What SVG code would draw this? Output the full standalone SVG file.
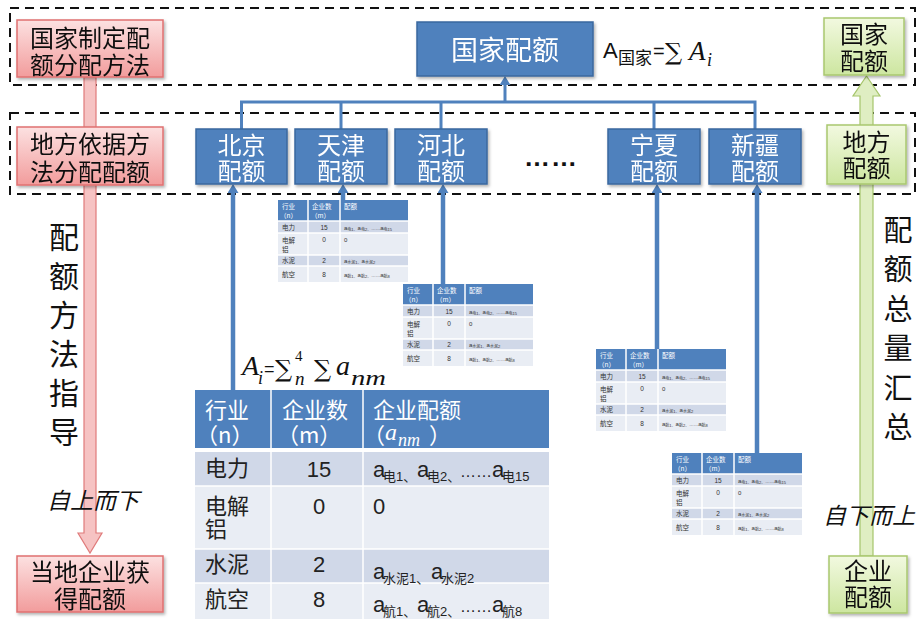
<svg xmlns="http://www.w3.org/2000/svg" width="921" height="620" viewBox="0 0 921 620">
<defs>
<style>
.cn{font-family:"Noto Sans CJK SC","Liberation Sans",sans-serif}
.lat{font-family:"Liberation Sans","Noto Sans CJK SC",sans-serif}
.math{font-family:"Liberation Serif","DejaVu Serif",serif;font-style:italic}
.up-num{font-family:"Liberation Serif","DejaVu Serif",serif;font-style:normal}
.sig{font-family:"DejaVu Serif","Liberation Serif",serif}
.dash{fill:none;stroke:#111;stroke-width:2;stroke-dasharray:9 6}
.blue{fill:#4F81BD;stroke:#3A689E;stroke-width:1.5}
.red{fill:url(#gRed);stroke:#E07070;stroke-width:1.5}
.green{fill:url(#gGreen);stroke:#A9C76F;stroke-width:1.5}
.wt{fill:#fff}
.bk{fill:#111}
.conn{fill:none;stroke:#4F81BD;stroke-width:3}
.up{fill:none;stroke:#4F81BD;stroke-width:4.5}
.hd{fill:#4F81BD}
.r1{fill:#D0D8E8}
.r2{fill:#E9EDF4}
.grid{stroke:#fff;stroke-width:1.5}
.mt{fill:#333}
</style>
<linearGradient id="gRed" x1="0" y1="0" x2="0" y2="1"><stop offset="0" stop-color="#FCE1E1"/><stop offset="1" stop-color="#F29C9C"/></linearGradient>
<linearGradient id="gGreen" x1="0" y1="0" x2="0" y2="1"><stop offset="0" stop-color="#F2F9E0"/><stop offset="1" stop-color="#CDE6A0"/></linearGradient>
<filter id="sh" x="-10%" y="-10%" width="130%" height="140%"><feDropShadow dx="1.5" dy="2" stdDeviation="1.5" flood-color="#000" flood-opacity="0.3"/></filter>
<marker id="ah" viewBox="0 0 10 10" refX="0" refY="5" markerWidth="9" markerHeight="11" markerUnits="userSpaceOnUse" orient="auto" preserveAspectRatio="none"><path d="M0,0 L10,5 L0,10 z" fill="#4F81BD"/></marker>
<g id="mini">
<rect x="0" y="0" width="130" height="21" class="hd"/>
<rect x="0" y="21" width="130" height="12" class="r1"/>
<rect x="0" y="33" width="130" height="22" class="r2"/>
<rect x="0" y="55" width="130" height="11" class="r1"/>
<rect x="0" y="66" width="130" height="16" class="r2"/>
<line x1="0" y1="21" x2="130" y2="21" stroke="#fff" stroke-width="1.5"/>
<line x1="0" y1="33" x2="130" y2="33" class="grid" stroke-width="0.8"/>
<line x1="0" y1="55" x2="130" y2="55" class="grid" stroke-width="0.8"/>
<line x1="0" y1="66" x2="130" y2="66" class="grid" stroke-width="0.8"/>
<line x1="30" y1="0" x2="30" y2="82" class="grid" stroke-width="0.8"/>
<line x1="62" y1="0" x2="62" y2="82" class="grid" stroke-width="0.8"/>
<g class="cn" font-size="6.5">
<text class="wt"><tspan x="4" y="9">行业</tspan><tspan x="2" y="18">（n）</tspan></text>
<text class="wt"><tspan x="34" y="9">企业数</tspan><tspan x="33" y="18">（m）</tspan></text>
<text x="66" y="9" class="wt">配额</text>
<text x="4" y="30" class="mt">电力</text>
<text class="mt"><tspan x="4" y="43">电解</tspan><tspan x="4" y="52">铝</tspan></text>
<text x="4" y="63" class="mt">水泥</text>
<text x="4" y="77" class="mt">航空</text>
</g>
<g class="lat mt" font-size="6.5" text-anchor="middle">
<text x="46" y="30">15</text>
<text x="46" y="42">0</text>
<text x="46" y="63">2</text>
<text x="46" y="77">8</text>
</g>
<g class="lat mt" font-size="6">
<text x="66" y="30">a<tspan font-size="4" dy="1">电1、</tspan><tspan dy="-1">a</tspan><tspan font-size="4" dy="1">电2、</tspan><tspan dy="-1" font-size="4.5">……</tspan>a<tspan font-size="4" dy="1">电15</tspan></text>
<text x="66" y="42">0</text>
<text x="66" y="63">a<tspan font-size="4" dy="1">水泥1、</tspan><tspan dy="-1">a</tspan><tspan font-size="4" dy="1">水泥2</tspan></text>
<text x="66" y="77">a<tspan font-size="4" dy="1">航1、</tspan><tspan dy="-1">a</tspan><tspan font-size="4" dy="1">航2、</tspan><tspan dy="-1" font-size="4.5">……</tspan>a<tspan font-size="4" dy="1">航8</tspan></text>
</g>
</g>
</defs>
<rect width="921" height="620" fill="#fff"/>

<g id="levels">
<rect class="dash" x="10" y="8" width="905" height="77"/>
<rect class="dash" x="10" y="113" width="905" height="81"/>
</g>

<g id="connectors">
<path class="conn" d="M241.5,129 V102 H755 V129 M341,102 V129 M441,102 V129 M654,102 V129"/>
<path class="conn" d="M505,102 V85" marker-end="url(#ah)"/>
<path class="up" d="M233,390 V193" marker-end="url(#ah)"/>
<path class="up" d="M343,200 V193" marker-end="url(#ah)"/>
<path class="up" d="M443,284 V193" marker-end="url(#ah)"/>
<path class="up" d="M657,349 V193" marker-end="url(#ah)"/>
<path class="up" d="M757,453 V193" marker-end="url(#ah)"/>
</g>

<g id="topdown-arrow">
<polygon points="84,77 96,77 96,533 102,533 90,553 78,533 84,533" fill="#F6C3C3" stroke="#E07B7B" stroke-width="1.2"/>
</g>
<g id="bottomup-arrow">
<polygon points="860,556 873,556 873,96 880,96 866.5,76 853,96 860,96" fill="#DFEEC2" stroke="#A6C56B" stroke-width="1.2"/>
</g>

<g id="red-national" filter="url(#sh)">
<rect class="red" x="17" y="20" width="146" height="57"/>
<text class="cn bk" font-size="24" text-anchor="middle"><tspan x="90" y="47">国家制定配</tspan><tspan x="90" y="74">额分配方法</tspan></text>
</g>
<g id="red-local" filter="url(#sh)">
<rect class="red" x="17" y="127" width="146" height="58"/>
<text class="cn bk" font-size="24" text-anchor="middle"><tspan x="90" y="153">地方依据方</tspan><tspan x="90" y="181">法分配配额</tspan></text>
</g>
<g id="red-enterprise" filter="url(#sh)">
<rect class="red" x="17" y="556" width="146" height="56"/>
<text class="cn bk" font-size="24" text-anchor="middle"><tspan x="90" y="581">当地企业获</tspan><tspan x="90" y="608">得配额</tspan></text>
</g>

<g id="green-national" filter="url(#sh)">
<rect class="green" x="824" y="18" width="80" height="57"/>
<text class="cn bk" font-size="24" text-anchor="middle"><tspan x="864" y="43">国家</tspan><tspan x="864" y="70">配额</tspan></text>
</g>
<g id="green-local" filter="url(#sh)">
<rect class="green" x="827" y="125" width="79" height="59"/>
<text class="cn bk" font-size="24" text-anchor="middle"><tspan x="866.5" y="151">地方</tspan><tspan x="866.5" y="177">配额</tspan></text>
</g>
<g id="green-enterprise" filter="url(#sh)">
<rect class="green" x="829" y="556" width="78" height="57"/>
<text class="cn bk" font-size="24" text-anchor="middle"><tspan x="868" y="580">企业</tspan><tspan x="868" y="606">配额</tspan></text>
</g>

<g id="label-left" class="cn bk" font-size="30" text-anchor="middle">
<text><tspan x="64" y="248">配</tspan><tspan x="64" y="287">额</tspan><tspan x="64" y="326">方</tspan><tspan x="64" y="365">法</tspan><tspan x="64" y="404">指</tspan><tspan x="64" y="443">导</tspan></text>
</g>
<text id="label-topdown" class="cn bk" font-size="23" font-style="italic" x="93" y="509" text-anchor="middle">自上而下</text>
<g id="label-right" class="cn bk" font-size="29" text-anchor="middle">
<text><tspan x="898" y="241">配</tspan><tspan x="898" y="280">额</tspan><tspan x="898" y="320">总</tspan><tspan x="898" y="359">量</tspan><tspan x="898" y="399">汇</tspan><tspan x="898" y="438">总</tspan></text>
</g>
<text id="label-bottomup" class="cn bk" font-size="23" font-style="italic" x="869" y="524" text-anchor="middle">自下而上</text>

<g id="national" filter="url(#sh)">
<rect class="blue" x="417" y="22" width="176" height="54"/>
<text class="cn wt" font-size="27" x="505" y="60" text-anchor="middle">国家配额</text>
</g>
<g id="formula-national" class="bk">
<text class="lat" font-size="22" x="603" y="58">A</text>
<text class="cn" font-size="17" x="618" y="64">国家</text>
<text class="lat" font-size="20" x="653" y="58">=</text>
<text class="sig" font-size="24" x="665" y="60">∑</text>
<text class="math" font-size="27" x="689" y="60">A</text>
<text class="math" font-size="18" x="707" y="66">i</text>
</g>

<g id="beijing" filter="url(#sh)">
<rect class="blue" x="196" y="129" width="91" height="55"/>
<text class="cn wt" font-size="24" text-anchor="middle"><tspan x="241.5" y="154">北京</tspan><tspan x="241.5" y="180">配额</tspan></text>
</g>
<g id="tianjin" filter="url(#sh)">
<rect class="blue" x="295" y="129" width="92" height="55"/>
<text class="cn wt" font-size="24" text-anchor="middle"><tspan x="341" y="154">天津</tspan><tspan x="341" y="180">配额</tspan></text>
</g>
<g id="hebei" filter="url(#sh)">
<rect class="blue" x="395" y="129" width="92" height="55"/>
<text class="cn wt" font-size="24" text-anchor="middle"><tspan x="441" y="154">河北</tspan><tspan x="441" y="180">配额</tspan></text>
</g>
<g id="ellipsis">
<text class="lat bk" font-size="26" font-weight="bold" x="551" y="166" text-anchor="middle" letter-spacing="1">……</text>
</g>
<g id="ningxia" filter="url(#sh)">
<rect class="blue" x="608" y="129" width="92" height="55"/>
<text class="cn wt" font-size="24" text-anchor="middle"><tspan x="654" y="154">宁夏</tspan><tspan x="654" y="180">配额</tspan></text>
</g>
<g id="xinjiang" filter="url(#sh)">
<rect class="blue" x="709" y="129" width="92" height="55"/>
<text class="cn wt" font-size="24" text-anchor="middle"><tspan x="755" y="154">新疆</tspan><tspan x="755" y="180">配额</tspan></text>
</g>

<g id="table-tianjin"><use href="#mini" x="278" y="200"/></g>
<g id="table-hebei"><use href="#mini" x="403" y="284"/></g>
<g id="table-ningxia"><use href="#mini" x="596" y="349"/></g>
<g id="table-xinjiang"><use href="#mini" x="672" y="453"/></g>

<g id="formula-province" class="bk">
<text class="math" font-size="28" x="242" y="375">A</text>
<text class="math" font-size="18" x="258" y="384">i</text>
<text class="lat" font-size="18" x="264" y="375">=</text>
<text class="sig" font-size="24" x="275" y="377">∑</text>
<text class="up-num" font-size="15" x="295" y="361">4</text>
<text class="math" font-size="19" x="295" y="385">n</text>
<text class="sig" font-size="24" x="314" y="377">∑</text>
<text class="math" font-size="28" x="336" y="375">a</text>
<text class="math" font-size="21" x="351" y="385" textLength="35" lengthAdjust="spacingAndGlyphs">nm</text>
</g>

<g id="table-beijing">
<rect x="195" y="390" width="354" height="59" class="hd"/>
<rect x="195" y="449" width="354" height="37" class="r1"/>
<rect x="195" y="486" width="354" height="63" class="r2"/>
<rect x="195" y="549" width="354" height="34" class="r1"/>
<rect x="195" y="583" width="354" height="36" class="r2"/>
<line x1="195" y1="450" x2="549" y2="450" stroke="#fff" stroke-width="4"/>
<line x1="195" y1="486" x2="549" y2="486" class="grid"/>
<line x1="195" y1="549" x2="549" y2="549" class="grid"/>
<line x1="195" y1="583" x2="549" y2="583" class="grid"/>
<line x1="271" y1="390" x2="271" y2="619" class="grid"/>
<line x1="363" y1="390" x2="363" y2="619" class="grid"/>
<g class="cn wt" font-size="22">
<text><tspan x="205" y="418">行业</tspan><tspan x="196" y="443">（n）</tspan></text>
<text><tspan x="282" y="418">企业数</tspan><tspan x="277" y="443">（m）</tspan></text>
<text x="373" y="418">企业配额</text>
<text x="363" y="443">（<tspan class="math" font-size="24" x="385" y="440">a</tspan><tspan class="math" font-size="18" x="398" y="446">nm</tspan><tspan x="429" y="443">）</tspan></text>
</g>
<g class="cn" font-size="22" fill="#222">
<text x="205" y="476">电力</text>
<text><tspan x="205" y="514">电解</tspan><tspan x="205" y="537">铝</tspan></text>
<text x="205" y="572">水泥</text>
<text x="205" y="607">航空</text>
</g>
<g class="lat" font-size="22" fill="#222" text-anchor="middle">
<text x="319" y="477">15</text>
<text x="319" y="514">0</text>
<text x="319" y="572">2</text>
<text x="319" y="607">8</text>
</g>
<g class="lat" font-size="22" fill="#222">
<text x="373" y="477">a<tspan x="383" dy="4" font-size="13">电1、</tspan><tspan x="417" dy="-4">a</tspan><tspan x="427" dy="4" font-size="13">电2、</tspan><tspan x="460" dy="-4" font-size="16">……</tspan><tspan x="492">a</tspan><tspan x="502" dy="4" font-size="13">电15</tspan></text>
<text x="373" y="514">0</text>
<text x="373" y="579">a<tspan x="383" dy="4" font-size="13">水泥1、</tspan><tspan x="431" dy="-4">a</tspan><tspan x="441" dy="4" font-size="13">水泥2</tspan></text>
<text x="373" y="612">a<tspan x="383" dy="4" font-size="13">航1、</tspan><tspan x="417" dy="-4">a</tspan><tspan x="427" dy="4" font-size="13">航2、</tspan><tspan x="460" dy="-4" font-size="16">……</tspan><tspan x="492">a</tspan><tspan x="502" dy="4" font-size="13">航8</tspan></text>
</g>
</g>
</svg>
